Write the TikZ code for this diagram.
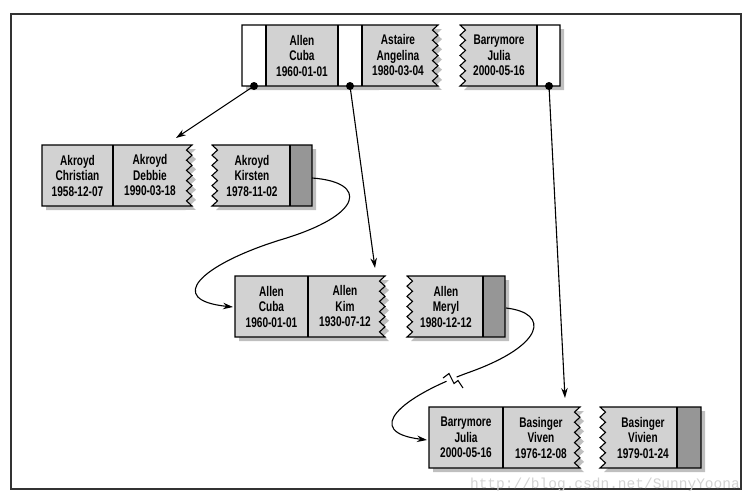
\documentclass[tikz,border=0pt]{standalone}
\usepackage{fontspec}
\newfontfamily\recfont{Liberation Sans}[FakeStretch=0.72]
\newfontfamily\wmfont{Liberation Mono}
\usetikzlibrary{arrows.meta}
\newcommand\rzz{\foreach \k in {1,...,6}{ -- ++(-5.5,5.083) -- ++(5.5,5.083)}}
\newcommand\lzz{\foreach \k in {1,...,6}{ -- ++(5.5,-5.083) -- ++(-5.5,-5.083)}}
% fragment torn on the right: left, right, top
\newcommand\pA[3]{(#1,#3) -- (#2,#3) \rzz -- (#1,#3+61) -- cycle}
% fragment torn on the left: left, right, top
\newcommand\pB[3]{(#1,#3) -- (#2,#3) -- (#2,#3+61) -- (#1,#3+61) \lzz -- cycle}
\begin{document}
\begin{tikzpicture}[x=1pt,y=-1pt,
  shadowc/.style={fill=gray!50},
  cellc/.style={fill=gray!35},
  whitec/.style={fill=white},
  darkc/.style={fill=gray!82},
  outl/.style={draw=black,line width=1.1pt,line join=miter},
  rec/.style={align=center,inner sep=0pt,font=\recfont\bfseries\fontsize{14}{15.5}\selectfont},
  dot/.style={circle,fill=black,inner sep=0pt,minimum size=8pt},
  arr/.style={line width=1.1pt,-{Stealth[length=10pt,width=6.5pt]}},
  crv/.style={line width=1.1pt,-{Stealth[length=10pt,width=6.5pt]}}]
\useasboundingbox (0,0) rectangle (753,501);
% frame
\draw[line width=1.2pt,draw=black!80] (11,14) rectangle (741,489);

% ---------- row 1 ----------
\fill[shadowc,shift={(4,4)}] \pA{242}{438}{25};
\fill[shadowc,shift={(4,4)}] \pB{460}{560}{25};
\fill[cellc] \pA{242}{438}{25};
\fill[whitec] (242,25) rectangle (266,86);
\fill[whitec] (338,25) rectangle (362,86);
\draw[outl] \pA{242}{438}{25};
\draw[outl] (266,25) -- (266,86) (338,25) -- (338,86) (362,25) -- (362,86);
\fill[cellc] \pB{460}{560}{25};
\fill[whitec] (537,25) rectangle (560,86);
\draw[outl] \pB{460}{560}{25};
\draw[outl] (537,25) -- (537,86);
\node[rec] (r1a) at (302,55.5) {Allen\\Cuba\\1960-01-01};
\node[rec] (r1b) at (398,55.5) {Astaire\\Angelina\\1980-03-04};
\node[rec] (r1c) at (499,55.5) {Barrymore\\Julia\\2000-05-16};
\node[dot] (d1) at (254,86) {};
\node[dot] (d2) at (350,86) {};
\node[dot] (d3) at (549,86) {};

% ---------- row 2 ----------
\fill[shadowc,shift={(4,4)}] \pA{42}{192}{145};
\fill[shadowc,shift={(4,4)}] \pB{212}{312}{145};
\fill[cellc] \pA{42}{192}{145};
\draw[outl] \pA{42}{192}{145};
\draw[outl] (113,145) -- (113,206);
\fill[cellc] \pB{212}{312}{145};
\fill[darkc] (290,145) rectangle (312,206);
\draw[outl] \pB{212}{312}{145};
\draw[outl] (290,145) -- (290,206);
\node[rec] (r2a) at (77.5,175.5) {Akroyd\\Christian\\1958-12-07};
\node[rec] (r2b) at (150,175.5) {Akroyd\\Debbie\\1990-03-18};
\node[rec] (r2c) at (252,175.5) {Akroyd\\Kirsten\\1978-11-02};

% ---------- row 3 ----------
\fill[shadowc,shift={(4,4)}] \pA{235}{385}{276};
\fill[shadowc,shift={(4,4)}] \pB{407}{505}{276};
\fill[cellc] \pA{235}{385}{276};
\draw[outl] \pA{235}{385}{276};
\draw[outl] (308,276) -- (308,337);
\fill[cellc] \pB{407}{505}{276};
\fill[darkc] (483,276) rectangle (505,337);
\draw[outl] \pB{407}{505}{276};
\draw[outl] (483,276) -- (483,337);
\node[rec] (r3a) at (271.5,306.5) {Allen\\Cuba\\1960-01-01};
\node[rec] (r3b) at (345,306.5) {Allen\\Kim\\1930-07-12};
\node[rec] (r3c) at (446,306.5) {Allen\\Meryl\\1980-12-12};

% ---------- row 4 ----------
\fill[shadowc,shift={(4,4)}] \pA{429}{580}{407};
\fill[shadowc,shift={(4,4)}] \pB{600}{701}{407};
\fill[cellc] \pA{429}{580}{407};
\draw[outl] \pA{429}{580}{407};
\draw[outl] (503,407) -- (503,468);
\fill[cellc] \pB{600}{701}{407};
\fill[darkc] (677,407) rectangle (701,468);
\draw[outl] \pB{600}{701}{407};
\draw[outl] (677,407) -- (677,468);
\node[rec] (r4a) at (466,437.5) {Barrymore\\Julia\\2000-05-16};
\node[rec] (r4b) at (541,437.5) {Basinger\\Viven\\1976-12-08};
\node[rec] (r4c) at (643,437.5) {Basinger\\Vivien\\1979-01-24};

% ---------- connectors ----------
\coordinate (a1) at (176,138);
\coordinate (a2) at (375,268);
\coordinate (a3) at (565,398);
\draw[arr] (d1.center) -- (a1);
\draw[arr] (d2.center) -- (a2);
\draw[arr] (d3.center) -- (a3);

\coordinate (k1) at (312,178);
\coordinate (k2) at (280,240);
\coordinate (k3) at (233,307);
\draw[crv] (k1) .. controls (368,182) and (365,215) .. (k2)
  .. controls (200,265) and (165,300) .. (k3);

\coordinate (m1) at (506,308);
\coordinate (m2) at (470,372);
\coordinate (m3) at (427,440);
\draw[crv] (m1) .. controls (550,313) and (545,345) .. (m2)
  .. controls (400,397) and (362,432) .. (m3);
% break mark
\draw[white,line width=4pt] (446.5,381) -- (456.5,377);
\draw[line width=1.1pt,line join=miter] (443,378) -- (449,373.5) -- (454,383.5) -- (458,380.5) -- (463,388);

% watermark
\node[font=\wmfont\fontsize{14.5}{16}\selectfont,text=gray!35,inner sep=0pt,anchor=east] (wm) at (740,485) {http://blog.csdn.net/SunnyYoona};
\end{tikzpicture}
\end{document}
